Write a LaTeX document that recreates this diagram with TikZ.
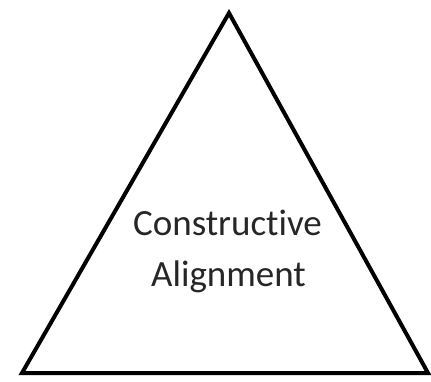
\documentclass[tikz,border=0pt]{standalone}
\usepackage{fontspec}
\setmainfont[Ligatures={NoCommon,NoRare,NoDiscretionary,NoContextual}]{Carlito}
\tikzset{tri/.style={draw=black,line width=4pt,line join=miter},
lbl/.style={font=\fontsize{37}{45}\selectfont,text=black!85,align=center,inner sep=0pt}}
\begin{document}
\begin{tikzpicture}[x=1pt,y=-1pt]
\useasboundingbox (0,0) rectangle (431,381);
\coordinate (apex) at (229,13);
\coordinate (bl) at (22,373);
\coordinate (br) at (428,373);
\draw[tri] (apex) -- (bl) -- (br) -- cycle;
\node[lbl,anchor=base] (l1) at (227.5,235) {Constructive};
\node[lbl,anchor=base] (l2) at (228.5,286) {Alignment};
\end{tikzpicture}
\end{document}
